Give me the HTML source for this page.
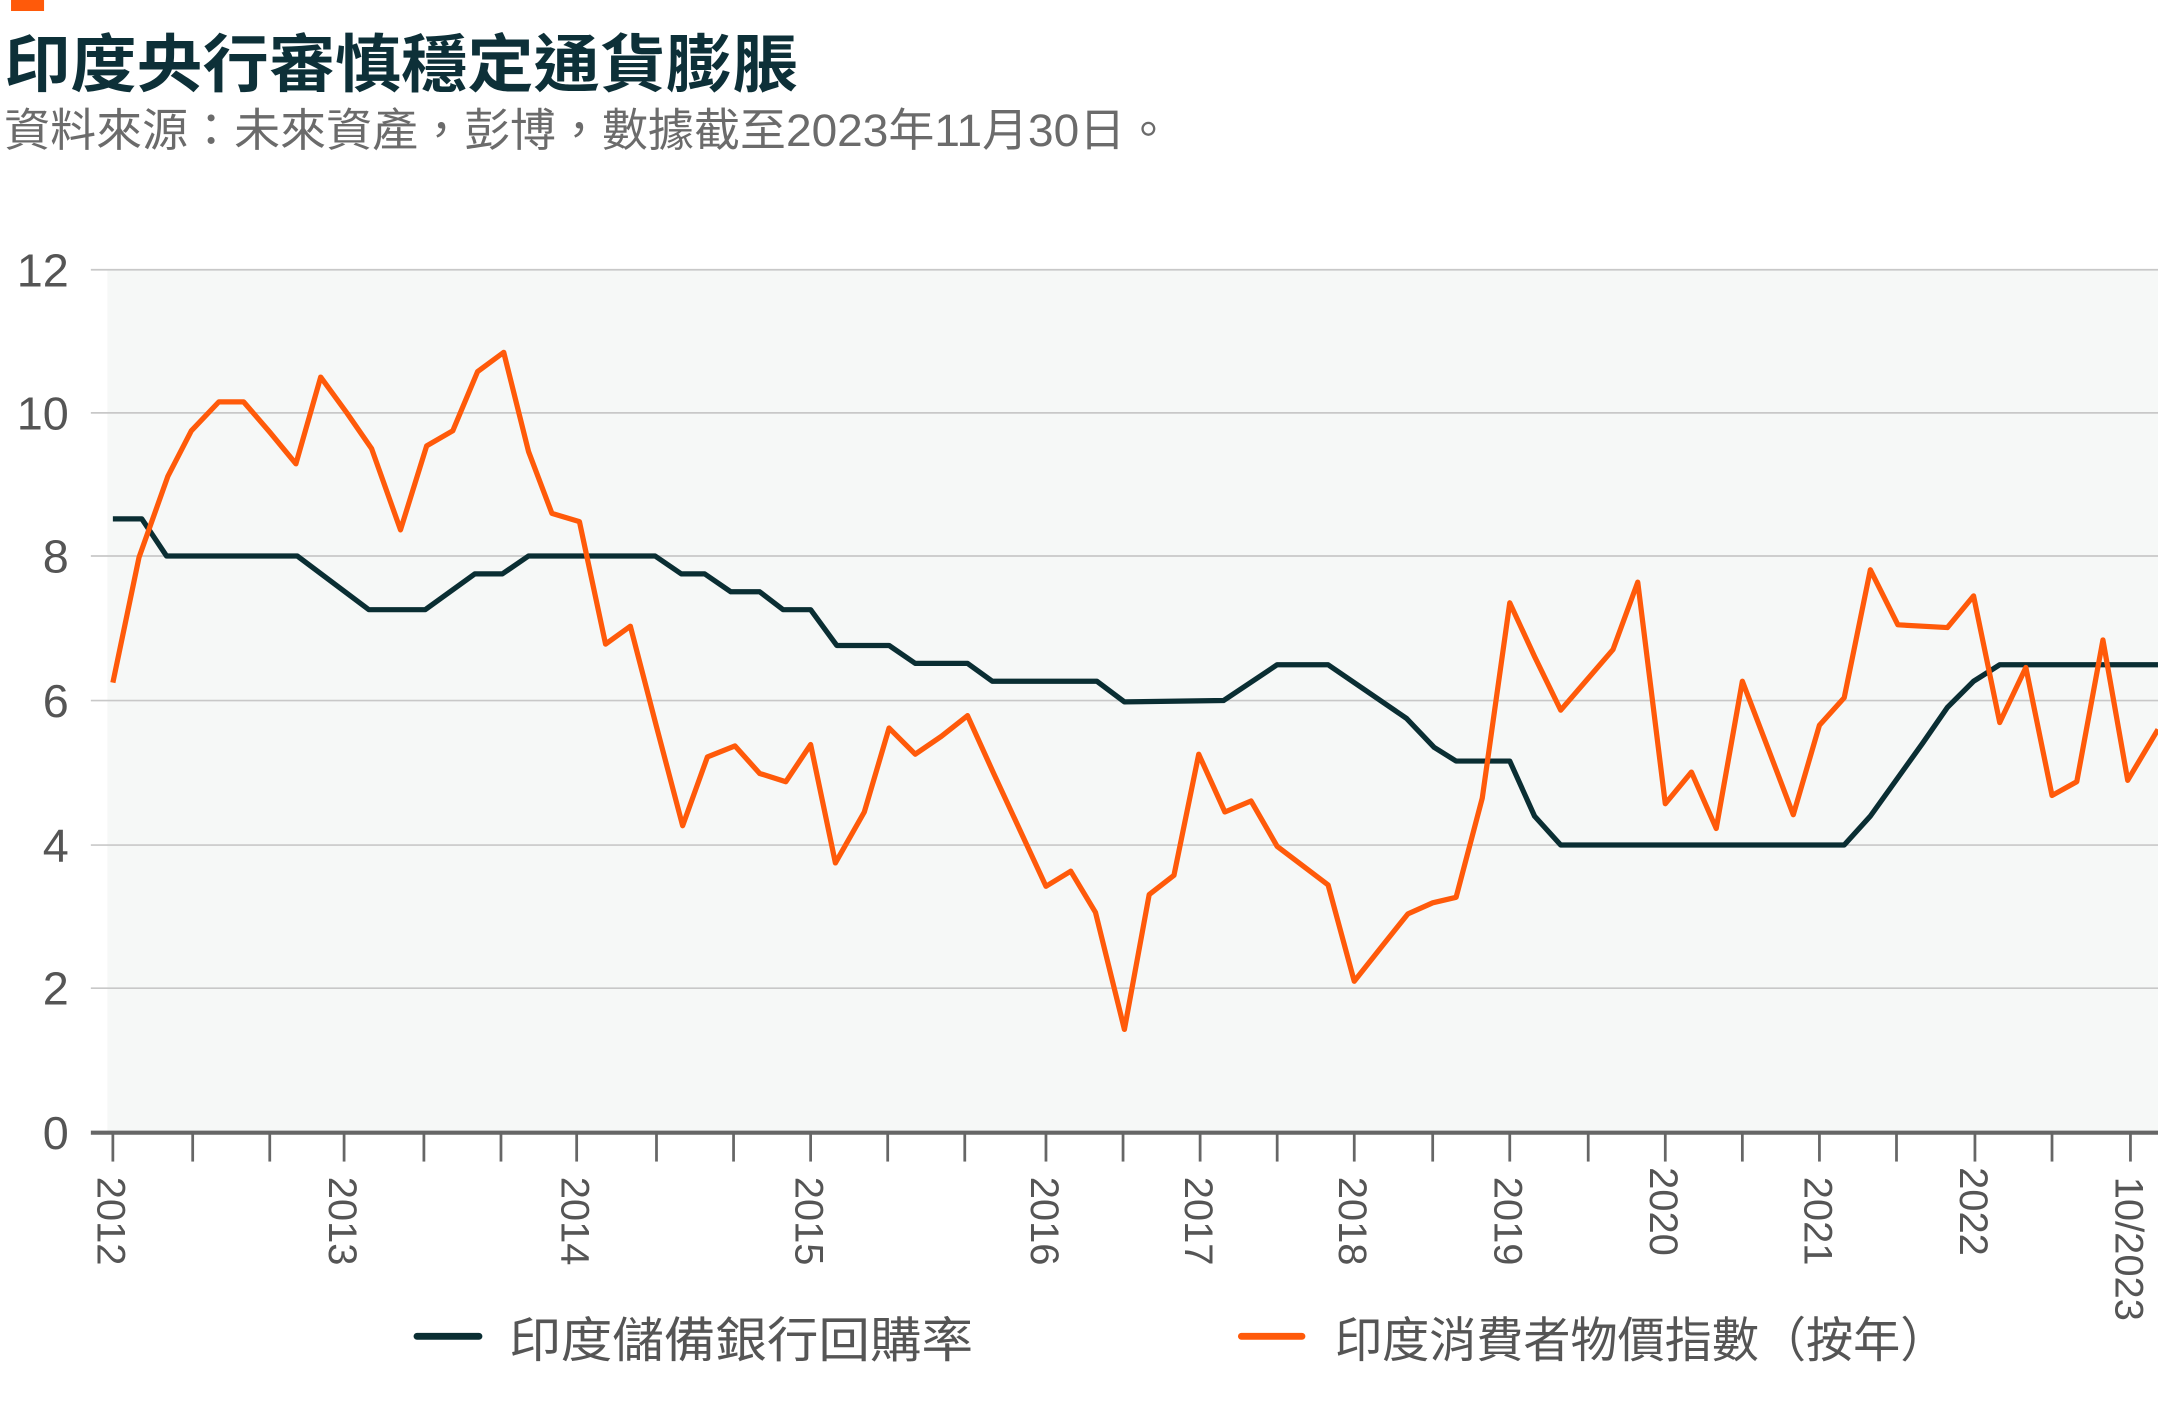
<!DOCTYPE html>
<html><head><meta charset="utf-8"><style>
html,body{margin:0;padding:0;background:#fff;}
svg{display:block;}
text{font-family:"Liberation Sans","Noto Sans CJK TC",sans-serif;}
</style></head><body>
<svg width="2158" height="1413" viewBox="0 0 1568 1026.7" xmlns="http://www.w3.org/2000/svg">
<rect x="8" y="0" width="24" height="8" fill="#ff5a0a"/>
<text x="3" y="63" font-size="46" font-weight="bold" fill="#0d3038" textLength="577" lengthAdjust="spacingAndGlyphs">印度央行審慎穩定通貨膨脹</text>
<text x="3" y="106" font-size="33" fill="#6b6b6b" textLength="848" lengthAdjust="spacingAndGlyphs">資料來源：未來資產，彭博，數據截至2023年11月30日。</text>
<rect x="78" y="196" width="1490" height="627" fill="#f6f8f7"/>
<g stroke="#c8c8c8" stroke-width="1.2">
<line x1="66" y1="196" x2="1568" y2="196"/>
<line x1="66" y1="300" x2="1568" y2="300"/>
<line x1="66" y1="404" x2="1568" y2="404"/>
<line x1="66" y1="509" x2="1568" y2="509"/>
<line x1="66" y1="614" x2="1568" y2="614"/>
<line x1="66" y1="718" x2="1568" y2="718"/>
</g>
<g font-size="34" fill="#555" text-anchor="end">
<text x="50" y="208">12</text><text x="50" y="312">10</text><text x="50" y="416">8</text>
<text x="50" y="521">6</text><text x="50" y="626">4</text><text x="50" y="730">2</text><text x="50" y="835">0</text>
</g>
<line x1="66" y1="823" x2="1568" y2="823" stroke="#666" stroke-width="3"/>
<g stroke="#666" stroke-width="2">
<line x1="82" y1="823" x2="82" y2="844"/><line x1="140" y1="823" x2="140" y2="844"/><line x1="196" y1="823" x2="196" y2="844"/><line x1="250" y1="823" x2="250" y2="844"/><line x1="308" y1="823" x2="308" y2="844"/><line x1="364" y1="823" x2="364" y2="844"/><line x1="419" y1="823" x2="419" y2="844"/><line x1="477" y1="823" x2="477" y2="844"/><line x1="533" y1="823" x2="533" y2="844"/><line x1="589" y1="823" x2="589" y2="844"/><line x1="645" y1="823" x2="645" y2="844"/><line x1="701" y1="823" x2="701" y2="844"/><line x1="760" y1="823" x2="760" y2="844"/><line x1="816" y1="823" x2="816" y2="844"/><line x1="872" y1="823" x2="872" y2="844"/><line x1="928" y1="823" x2="928" y2="844"/><line x1="984" y1="823" x2="984" y2="844"/><line x1="1041" y1="823" x2="1041" y2="844"/><line x1="1097" y1="823" x2="1097" y2="844"/><line x1="1154" y1="823" x2="1154" y2="844"/><line x1="1210" y1="823" x2="1210" y2="844"/><line x1="1266" y1="823" x2="1266" y2="844"/><line x1="1322" y1="823" x2="1322" y2="844"/><line x1="1378" y1="823" x2="1378" y2="844"/><line x1="1435" y1="823" x2="1435" y2="844"/><line x1="1491" y1="823" x2="1491" y2="844"/><line x1="1548" y1="823" x2="1548" y2="844"/>
</g>
<g font-size="29" fill="#555">
<text transform="translate(71,855) rotate(90)">2012</text>
<text transform="translate(239,855) rotate(90)">2013</text>
<text transform="translate(408,855) rotate(90)">2014</text>
<text transform="translate(578,855) rotate(90)">2015</text>
<text transform="translate(749,855) rotate(90)">2016</text>
<text transform="translate(861,855) rotate(90)">2017</text>
<text transform="translate(973,855) rotate(90)">2018</text>
<text transform="translate(1086,855) rotate(90)">2019</text>
<text transform="translate(1199,848) rotate(90)">2020</text>
<text transform="translate(1311,855) rotate(90)">2021</text>
<text transform="translate(1424,848) rotate(90)">2022</text>
<text transform="translate(1537,855) rotate(90)">10/2023</text>
</g>
<polyline fill="none" stroke="#0a2e33" stroke-width="3.8" stroke-linejoin="round" points="82,377 103,377 121,404 216,404 268,443 309,443 345,417 365,417 384,404 476,404 495,417 512,417 531,430 552,430 569,443 589,443 608,469 646,469 665,482 703,482 721,495 797,495 817,510 889,509 928,483 965,483 1022,522 1042,543 1058,553 1097,553 1115,593 1134,614 1340,614 1359,593 1397,540 1415,514 1434,495 1453,483 1568,483"/>
<polyline fill="none" stroke="#ff5a0a" stroke-width="3.8" stroke-linejoin="round" points="82,496 101,405 122,346 139,313 159,292 177,292 196,314 215,337 233,274 252,300 270,326 291,385 310,324 329,313 347,270 366,256 384,328 401,373 421,379 440,468 458,455 477,528 496,600 514,550 534,542 552,562 571,568 589,541 607,627 628,590 646,529 665,548 684,535 703,520 722,562 741,603 760,644 778,633 796,663 817,748 835,650 853,636 871,548 890,590 909,582 928,615 965,643 984,713 1003,689 1023,664 1041,656 1058,652 1077,580 1097,438 1115,477 1134,516 1153,494 1172,472 1190,423 1210,584 1229,561 1247,602 1266,495 1284,542 1303,592 1322,527 1340,507 1359,414 1379,454 1415,456 1434,433 1453,525 1472,485 1491,578 1509,568 1528,465 1546,567 1568,530"/>
<line x1="303" y1="971" x2="348" y2="971" stroke="#0a2e33" stroke-width="5" stroke-linecap="round"/>
<text x="370" y="986" font-size="35" fill="#555" textLength="337" lengthAdjust="spacingAndGlyphs">印度儲備銀行回購率</text>
<line x1="902" y1="971" x2="946" y2="971" stroke="#ff5a0a" stroke-width="5" stroke-linecap="round"/>
<text x="970" y="986" font-size="35" fill="#555" textLength="445" lengthAdjust="spacingAndGlyphs">印度消費者物價指數（按年）</text>
</svg>
</body></html>
